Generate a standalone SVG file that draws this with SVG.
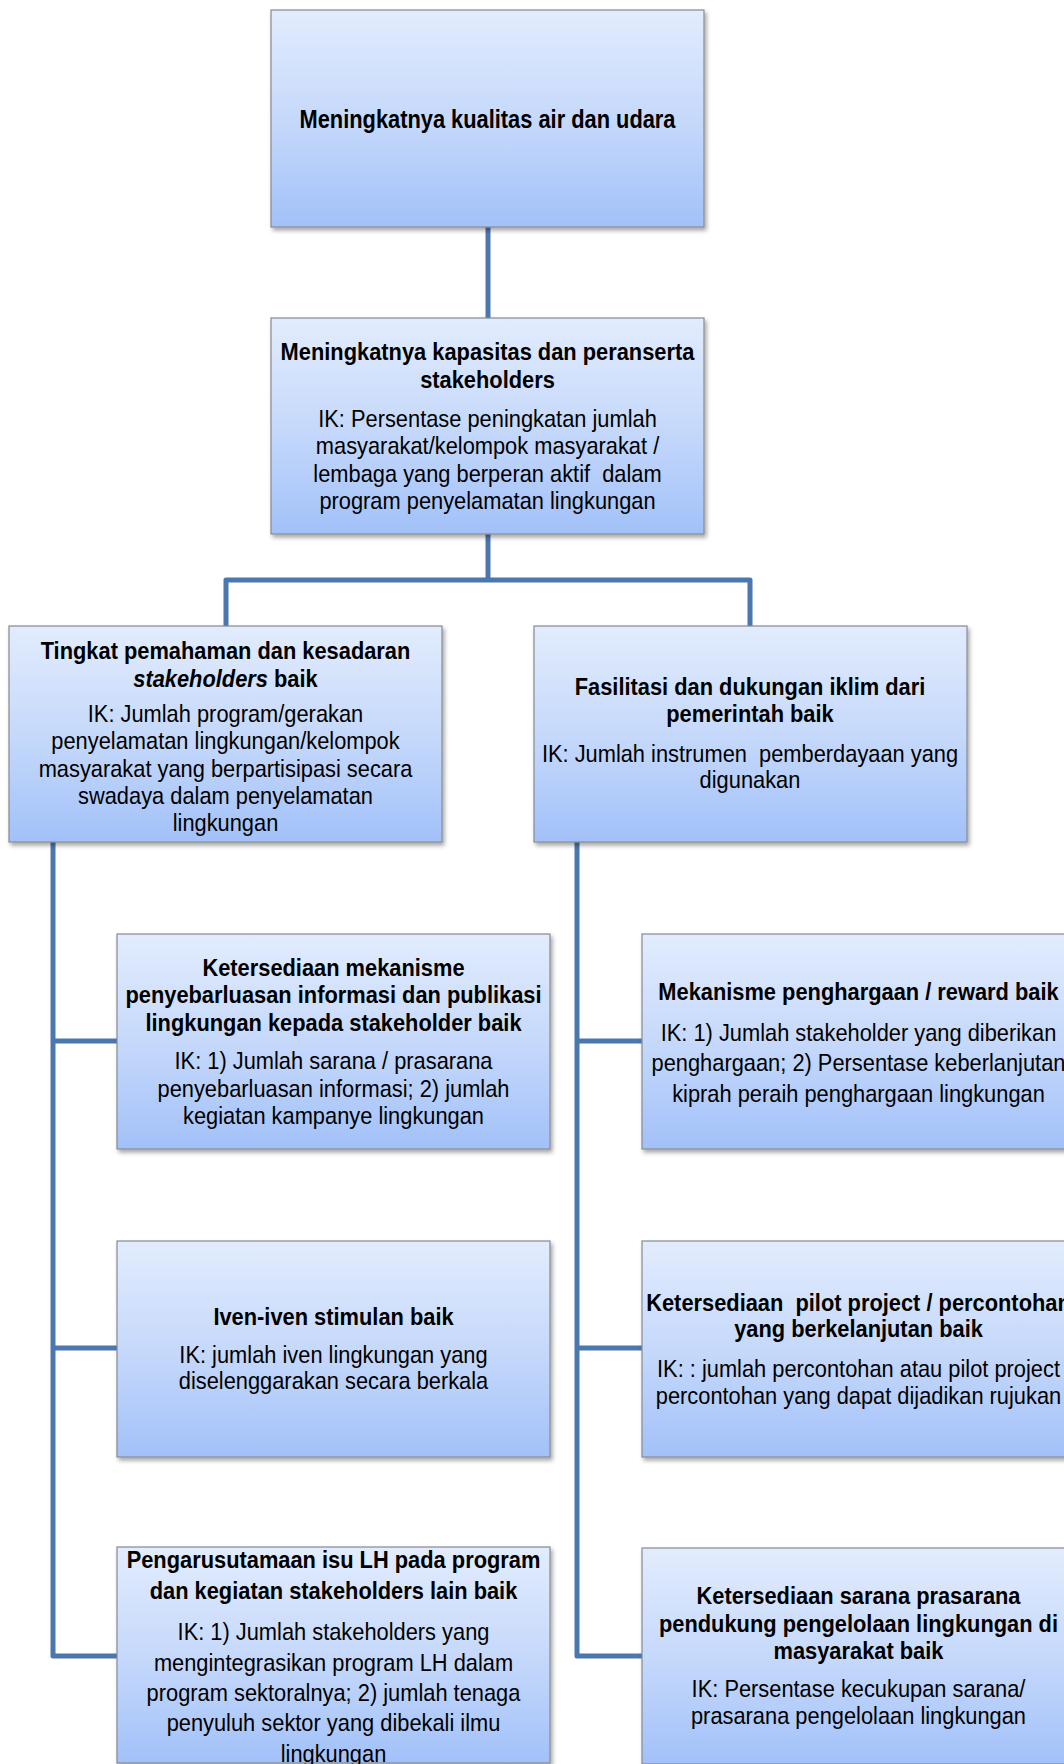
<svg xmlns="http://www.w3.org/2000/svg" width="1064" height="1764" viewBox="0 0 1064 1764">
<style>
.box{fill:url(#bg);stroke:#858a93;stroke-width:1.2;filter:url(#sh)}
text{font-family:"Liberation Sans",Arial,sans-serif;font-size:24px;fill:#000;text-anchor:middle}
.b{font-weight:bold}
.con{fill:none;stroke:#4a77ae;stroke-width:5;stroke-linejoin:round}
</style>
<defs>
<linearGradient id="bg" x1="0" y1="0" x2="0" y2="1">
<stop offset="0" stop-color="#e2ecfd"/>
<stop offset="0.5" stop-color="#c6d9fb"/>
<stop offset="1" stop-color="#a2c1f9"/>
</linearGradient>
<filter id="sh" x="-5%" y="-5%" width="112%" height="115%">
<feDropShadow dx="2" dy="3" stdDeviation="2" flood-color="#000" flood-opacity="0.35"/>
</filter>
</defs>
<rect width="1064" height="1764" fill="#fff"/>
<g id="connectors">
<path class="con" d="M488,227 V318"/>
<path class="con" d="M488,534 V580"/>
<path class="con" d="M226,626 V580 H750 V626"/>
<path class="con" d="M53,842 V1656 H117"/>
<path class="con" d="M53,1041 H117"/>
<path class="con" d="M53,1348 H117"/>
<path class="con" d="M577,842 V1656 H642"/>
<path class="con" d="M577,1041 H642"/>
<path class="con" d="M577,1348 H642"/>
</g>
<g id="n-top">
<rect class="box" x="271" y="10" width="433" height="217"/>
<g transform="translate(487.5 0) scale(0.824 1)">
<text class="b" x="0" y="128" style="font-size:26.5px">Meningkatnya kualitas air dan udara</text>
</g>
</g>
<g id="n-kapasitas">
<rect class="box" x="271" y="318" width="433" height="216"/>
<g transform="translate(487.5 0) scale(0.91 1)">
<text class="b" x="0" y="360">Meningkatnya kapasitas dan peranserta</text>
<text class="b" x="0" y="388">stakeholders</text>
<text x="0" y="427">IK: Persentase peningkatan jumlah</text>
<text x="0" y="454">masyarakat/kelompok masyarakat /</text>
<text x="0" y="482">lembaga yang berperan aktif &#160;dalam</text>
<text x="0" y="509">program penyelamatan lingkungan</text>
</g>
</g>
<g id="n-pemahaman">
<rect class="box" x="9" y="626" width="433" height="216"/>
<g transform="translate(225.5 0) scale(0.91 1)">
<text class="b" x="0" y="659">Tingkat pemahaman dan kesadaran</text>
<text class="b" x="0" y="687"><tspan font-style="italic">stakeholders</tspan> baik</text>
<text x="0" y="722">IK: Jumlah program/gerakan</text>
<text x="0" y="749">penyelamatan lingkungan/kelompok</text>
<text x="0" y="777">masyarakat yang berpartisipasi secara</text>
<text x="0" y="804">swadaya dalam penyelamatan</text>
<text x="0" y="831">lingkungan</text>
</g>
</g>
<g id="n-fasilitasi">
<rect class="box" x="534" y="626" width="433" height="216"/>
<g transform="translate(750 0) scale(0.91 1)">
<text class="b" x="0" y="695">Fasilitasi dan dukungan iklim dari</text>
<text class="b" x="0" y="722">pemerintah baik</text>
<text x="0" y="762">IK: Jumlah instrumen &#160;pemberdayaan yang</text>
<text x="0" y="788">digunakan</text>
</g>
</g>
<g id="n-informasi">
<rect class="box" x="117" y="934" width="433" height="215"/>
<g transform="translate(333.5 0) scale(0.91 1)">
<text class="b" x="0" y="976">Ketersediaan mekanisme</text>
<text class="b" x="0" y="1003">penyebarluasan informasi dan publikasi</text>
<text class="b" x="0" y="1031">lingkungan kepada stakeholder baik</text>
<text x="0" y="1069">IK: 1) Jumlah sarana / prasarana</text>
<text x="0" y="1097">penyebarluasan informasi; 2) jumlah</text>
<text x="0" y="1124">kegiatan kampanye lingkungan</text>
</g>
</g>
<g id="n-iven">
<rect class="box" x="117" y="1241" width="433" height="216"/>
<g transform="translate(333.5 0) scale(0.91 1)">
<text class="b" x="0" y="1325">Iven-iven stimulan baik</text>
<text x="0" y="1363">IK: jumlah iven lingkungan yang</text>
<text x="0" y="1389">diselenggarakan secara berkala</text>
</g>
</g>
<g id="n-pengarusutamaan">
<rect class="box" x="117" y="1547" width="433" height="216"/>
<g transform="translate(333.5 0) scale(0.91 1)">
<text class="b" x="0" y="1568">Pengarusutamaan isu LH pada program</text>
<text class="b" x="0" y="1599">dan kegiatan stakeholders lain baik</text>
<text x="0" y="1640">IK: 1) Jumlah stakeholders yang</text>
<text x="0" y="1671">mengintegrasikan program LH dalam</text>
<text x="0" y="1701">program sektoralnya; 2) jumlah tenaga</text>
<text x="0" y="1731">penyuluh sektor yang dibekali ilmu</text>
<text x="0" y="1762">lingkungan</text>
</g>
</g>
<g id="n-reward">
<rect class="box" x="642" y="934" width="433" height="215"/>
<g transform="translate(858.5 0) scale(0.91 1)">
<text class="b" x="0" y="1000">Mekanisme penghargaan / reward baik</text>
<text x="0" y="1041">IK: 1) Jumlah stakeholder yang diberikan</text>
<text x="0" y="1071">penghargaan; 2) Persentase keberlanjutan</text>
<text x="0" y="1102">kiprah peraih penghargaan lingkungan</text>
</g>
</g>
<g id="n-pilot">
<rect class="box" x="642" y="1241" width="433" height="216"/>
<g transform="translate(858.5 0) scale(0.91 1)">
<text class="b" x="0" y="1311">Ketersediaan &#160;pilot project / percontohan</text>
<text class="b" x="0" y="1337">yang berkelanjutan baik</text>
<text x="0" y="1377">IK: : jumlah percontohan atau pilot project</text>
<text x="0" y="1404">percontohan yang dapat dijadikan rujukan</text>
</g>
</g>
<g id="n-sarana">
<rect class="box" x="642" y="1548" width="433" height="216"/>
<g transform="translate(858.5 0) scale(0.91 1)">
<text class="b" x="0" y="1604">Ketersediaan sarana prasarana</text>
<text class="b" x="0" y="1632">pendukung pengelolaan lingkungan di</text>
<text class="b" x="0" y="1659">masyarakat baik</text>
<text x="0" y="1697">IK: Persentase kecukupan sarana/</text>
<text x="0" y="1724">prasarana pengelolaan lingkungan</text>
</g>
</g>
</svg>
